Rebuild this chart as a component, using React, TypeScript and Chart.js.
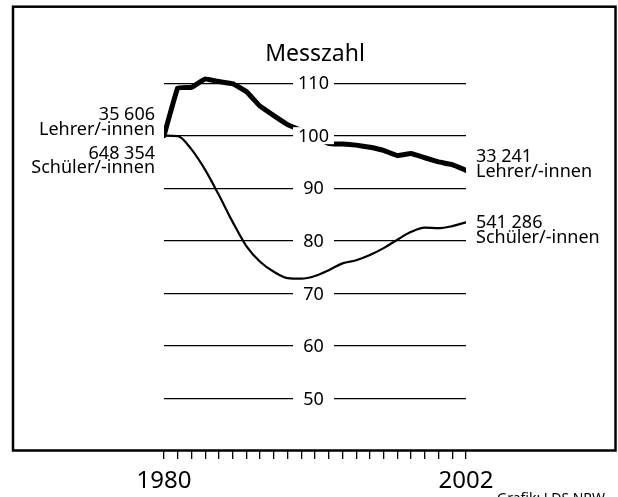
import React, { useEffect, useRef } from "react";
import { Chart, registerables } from "chart.js";

Chart.register(...registerables);

const years = [1980, 1981, 1982, 1983, 1984, 1985, 1986, 1987, 1988, 1989, 1990, 1991, 1992, 1993, 1994, 1995, 1996, 1997, 1998, 1999, 2000, 2001, 2002];
const lehrer = [100, 109.1, 109.2, 110.8, 110.3, 109.9, 108.4, 105.6, 103.8, 102.1, 101.0, 99.8, 98.5, 98.4, 98.2, 97.8, 97.2, 96.2, 96.6, 95.8, 95.0, 94.5, 93.4];
const schueler = [100, 99.9, 97.4, 93.5, 88.7, 83.6, 79.0, 76.0, 74.1, 72.9, 72.8, 73.3, 74.4, 75.7, 76.3, 77.3, 78.6, 80.2, 81.7, 82.5, 82.4, 82.8, 83.5];
const yTicks = [50, 60, 70, 80, 90, 100, 110];
const xLabelYears = [1980, 2002];
const lehrerStartText = ["35 606", "Lehrer/-innen"];
const schuelerStartText = ["648 354", "Schüler/-innen"];
const lehrerEndText = ["33 241", "Lehrer/-innen"];
const schuelerEndText = ["541 286", "Schüler/-innen"];
const titleText = "Messzahl";
const sourceText = "Grafik: LDS NRW";

const FONT = '"Noto Sans", "DejaVu Sans", sans-serif';

const overlayPlugin = {
  id: "overlay",
  afterDatasetsDraw(chart: any) {
    const ctx = chart.ctx;
    const xs = chart.scales.x;
    const ys = chart.scales.y;
    const area = chart.chartArea;
    ctx.save();
    // axis labels with white backdrop in the middle of the plot
    const cx = (area.left + area.right) / 2 - 1.5;
    ctx.font = `18px ${FONT}`;
    ctx.textAlign = "center";
    ctx.textBaseline = "alphabetic";
    ys.ticks.forEach((t: any) => {
      const y = ys.getPixelForValue(t.value);
      ctx.fillStyle = "#fff";
      ctx.fillRect(cx - 20.5, y - 8.5, 41, 17);
      ctx.fillStyle = "#000";
      ctx.fillText(String(t.value), cx, y + 6.2);
    });

    // series annotations
    ctx.font = `18px ${FONT}`;
    ctx.fillStyle = "#000";
    const gap = 14.8;
    const drawBlock = (lines: string[], x: number, y: number, align: string) => {
      ctx.textAlign = align;
      lines.forEach((l, i) => ctx.fillText(l, x, y + i * gap));
    };
    const lx = xs.getPixelForValue(years[0]) - 9;
    const rx = xs.getPixelForValue(years[years.length - 1]) + 10;
    drawBlock(lehrerStartText, lx, ys.getPixelForValue(103.0), "right");
    drawBlock(schuelerStartText, lx, ys.getPixelForValue(95.65), "right");
    drawBlock(lehrerEndText, rx, ys.getPixelForValue(95.0), "left");
    drawBlock(schuelerEndText, rx, ys.getPixelForValue(82.4), "left");
    ctx.restore();
  },
  afterDraw(chart: any) {
    const ctx = chart.ctx;
    ctx.save();
    ctx.strokeStyle = "#000";
    ctx.lineWidth = 2.5;
    ctx.strokeRect(13, 6.7, 602.5, 443.8);
    ctx.font = `14px ${FONT}`;
    ctx.fillStyle = "#000";
    ctx.textAlign = "left";
    ctx.textBaseline = "alphabetic";
    ctx.fillText(sourceText, 497, 503);
    ctx.restore();
  },
};

export default function App() {
  const ref = useRef<HTMLCanvasElement>(null);
  useEffect(() => {
    const chart = new Chart(ref.current as HTMLCanvasElement, {
      type: "line",
      data: {
        datasets: [
          {
            label: "Lehrer/-innen",
            data: years.map((x, i) => ({ x, y: lehrer[i] })),
            borderColor: "#000",
            borderWidth: 5,
            pointRadius: 0,
            tension: 0.05,
            borderJoinStyle: "round",
            borderCapStyle: "round",
            fill: false,
          },
          {
            label: "Schüler/-innen",
            data: years.map((x, i) => ({ x, y: schueler[i] })),
            borderColor: "#000",
            borderWidth: 2.2,
            pointRadius: 0,
            cubicInterpolationMode: "monotone",
            borderJoinStyle: "round",
            borderCapStyle: "round",
            fill: false,
          },
        ],
      },
      options: {
        responsive: false,
        animation: false,
        devicePixelRatio: 1,
        layout: { padding: { left: 164, right: 152, top: 0, bottom: 0 } },
        plugins: {
          legend: { display: false },
          tooltip: { enabled: false },
          title: {
            display: true,
            text: titleText,
            fullSize: false,
            color: "#000",
            font: { family: FONT, size: 23, weight: "normal" },
            padding: { top: 41, bottom: 4 },
          },
        },
        scales: {
          x: {
            type: "linear",
            min: years[0],
            max: years[years.length - 1],
            afterBuildTicks: (s: any) => {
              s.ticks = years.map((v) => ({ value: v }));
            },
            afterFit: (s: any) => {
              s.height = 46;
            },
            ticks: {
              autoSkip: false,
              maxRotation: 0,
              color: "#000",
              padding: 8,
              font: { family: FONT, size: 24 },
              callback: (v: any) => (xLabelYears.includes(Number(v)) ? String(v) : ""),
            },
            grid: { drawOnChartArea: false, drawTicks: true, tickLength: 8, color: "#000", lineWidth: 1.3 },
            border: { display: false },
          },
          y: {
            min: 40,
            max: 112,
            afterBuildTicks: (s: any) => {
              s.ticks = yTicks.map((v) => ({ value: v }));
            },
            ticks: { display: false },
            grid: { color: "#000", lineWidth: 1.2, drawTicks: false },
            border: { display: false },
          },
        },
      } as any,
      plugins: [overlayPlugin as any],
    });
    return () => chart.destroy();
  }, []);
  return (
    <div style={{ position: "absolute", left: 0, top: 0, width: 618, height: 497, background: "#fff" }}>
      <canvas ref={ref} width={618} height={497} style={{ display: "block" }} />
    </div>
  );
}
